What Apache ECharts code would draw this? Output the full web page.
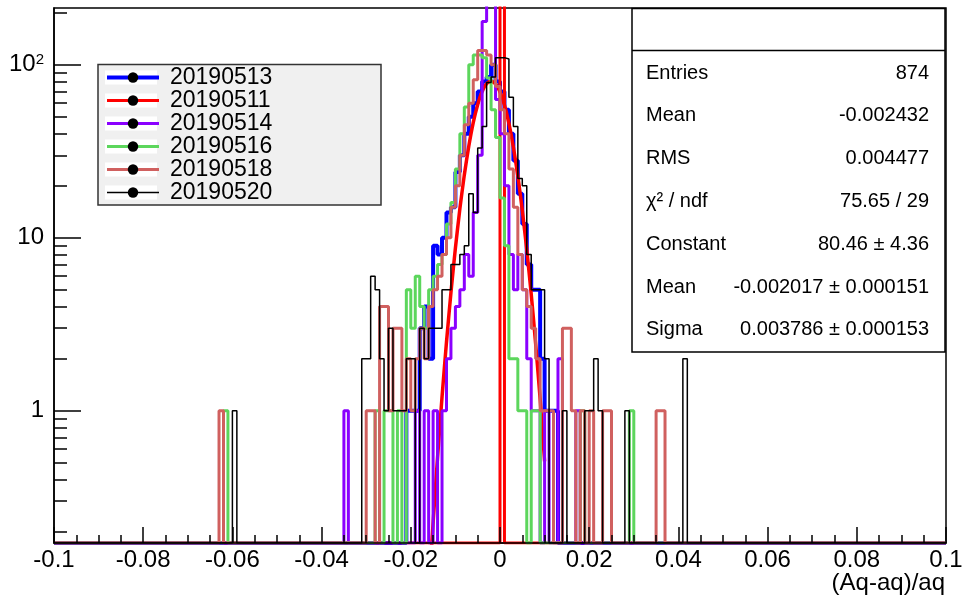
<!DOCTYPE html>
<html>
<head>
<meta charset="utf-8">
<script src="https://cdn.jsdelivr.net/npm/echarts@6/dist/echarts.min.js"></script>
<style>
html,body{margin:0;padding:0;background:#fff}
#chart{width:962px;height:596px}
</style>
</head>
<body>
<div id="chart"></div>
<script>
// binning of all histograms: 0.001 wide bins on [-0.1, 0.1]
var xMin = -0.1, xMax = 0.1, binWidth = 0.001
var yMin = 0.172, yMax = 213

var runs = ['20190513','20190511','20190514','20190516','20190518','20190520']
var runColors = ['#0000ff','#ff0000','#8a00ff','#5cd65c','#d0605f','#000000']
var runWidths = [4,3,3,3,3,1.5]

// non empty bins: [bin low edge, entries]
var h20190513 = [[-0.021,1],[-0.020,1],[-0.019,1],[-0.018,3],[-0.017,4],[-0.016,2],[-0.015,9],[-0.014,8],[-0.013,10],[-0.012,14],[-0.011,15],[-0.010,24],[-0.009,30],[-0.008,40],[-0.007,50],[-0.006,60],[-0.005,70],[-0.004,80],[-0.003,85],[-0.002,100],[-0.001,80],[0.000,70],[0.001,55],[0.002,40],[0.003,28],[0.004,18],[0.005,12],[0.006,7],[0.007,5],[0.008,5],[0.009,2],[0.010,1],[0.011,1],[0.012,1]]
var h20190511 = [[0.000,300]]
var h20190514 = [[-0.035,1],[-0.019,1],[-0.017,1],[-0.015,1],[-0.013,1],[-0.012,2],[-0.011,3],[-0.010,4],[-0.009,5],[-0.008,8],[-0.007,6],[-0.006,14],[-0.005,30],[-0.004,178],[-0.003,260],[-0.002,260],[-0.001,63],[0.000,40],[0.001,20],[0.002,8],[0.003,5],[0.004,8],[0.005,5],[0.006,2],[0.007,1],[0.008,1],[0.010,1],[0.013,2],[0.017,1]]
var h20190516 = [[-0.062,1],[-0.028,1],[-0.026,1],[-0.025,1],[-0.023,1],[-0.021,5],[-0.020,3],[-0.019,6],[-0.018,4],[-0.017,3],[-0.016,5],[-0.015,6],[-0.014,7],[-0.013,8],[-0.012,12],[-0.011,16],[-0.010,25],[-0.009,40],[-0.008,57],[-0.007,100],[-0.006,114],[-0.005,114],[-0.004,110],[-0.003,84],[-0.002,55],[-0.001,38],[0.000,17],[0.001,9],[0.002,2],[0.003,2],[0.004,1],[0.005,1],[0.007,1],[0.008,1],[0.018,1],[0.029,1]]
var h20190518 = [[-0.063,1],[-0.030,1],[-0.029,1],[-0.027,4],[-0.026,4],[-0.025,1],[-0.024,3],[-0.023,3],[-0.022,1],[-0.021,2],[-0.020,1],[-0.019,2],[-0.018,3],[-0.017,2],[-0.016,4],[-0.015,5],[-0.014,6],[-0.013,8],[-0.012,10],[-0.011,15],[-0.010,20],[-0.009,30],[-0.008,45],[-0.007,60],[-0.006,82],[-0.005,121],[-0.004,121],[-0.003,114],[-0.002,100],[-0.001,75],[0.000,55],[0.001,40],[0.002,25],[0.003,15],[0.004,8],[0.005,5],[0.006,4],[0.007,3],[0.008,2],[0.009,1],[0.010,1],[0.011,1],[0.014,3],[0.015,3],[0.016,1],[0.018,1],[0.020,1],[0.023,1],[0.024,1],[0.035,1],[0.036,1]]
var h20190520 = [[-0.060,1],[-0.031,2],[-0.030,2],[-0.029,6],[-0.028,5],[-0.027,2],[-0.026,1],[-0.025,3],[-0.024,1],[-0.023,1],[-0.022,1],[-0.021,2],[-0.020,2],[-0.018,3],[-0.017,2],[-0.016,3],[-0.015,3],[-0.014,3],[-0.013,5],[-0.012,5],[-0.011,7],[-0.010,7],[-0.009,8],[-0.008,9],[-0.007,18],[-0.006,14],[-0.005,33],[-0.004,44],[-0.003,79],[-0.002,85],[-0.001,110],[0.000,110],[0.001,108],[0.002,65],[0.003,44],[0.004,22],[0.005,20],[0.006,8],[0.007,5],[0.008,5],[0.009,5],[0.010,2],[0.014,1],[0.019,1],[0.020,1],[0.021,2],[0.022,1],[0.028,1],[0.041,2]]
var hists = [h20190513,h20190511,h20190514,h20190516,h20190518,h20190520]

// gaussian fit drawn over the first histogram
var fitX = [-0.016,-0.015,-0.014,-0.013,-0.012,-0.011,-0.010,-0.009,-0.008,-0.007,-0.006,-0.005,-0.004,-0.003,-0.002,-0.001,0.000,0.001,0.002,0.003,0.004,0.005,0.006,0.007,0.008,0.009,0.010]
var fitY = [0.088,0.225,0.537,1.20,2.49,4.82,8.71,14.7,23.1,33.8,46.3,59.0,70.2,77.8,80.5,77.6,69.8,58.6,45.8,33.4,22.8,14.4,8.55,4.72,2.43,1.17,0.51]

var yMajorTicks = [1,10,100]
var yMinorTicks = [0.2,0.3,0.4,0.5,0.6,0.7,0.8,0.9,2,3,4,5,6,7,8,9,20,30,40,50,60,70,80,90,200]

var statLabels = ['Entries','Mean','RMS','\u03c7\u00b2 / ndf','Constant','Mean','Sigma']
var statValues = ['874','-0.002432','0.004477','75.65 / 29','80.46 \u00b1 4.36','-0.002017 \u00b1 0.000151','0.003786 \u00b1 0.000153']
var xTitle = '(Aq-aq)/aq'

var font = '"Liberation Sans", Arial, Helvetica, sans-serif'

// histogram outline as step points, empty bins sit on the frame bottom
function stepPoints(bins){
  var counts = {}
  bins.forEach(function(b){ counts[Math.round(b[0]/binWidth)] = b[1] })
  var k0 = Math.round(xMin/binWidth), k1 = Math.round(xMax/binWidth)
  var pts = []
  for (var k = k0; k < k1; k++){
    var v = counts[k] !== undefined ? counts[k] : yMin
    pts.push([+(k*binWidth).toFixed(4), v], [+((k+1)*binWidth).toFixed(4), v])
  }
  return pts
}

var series = []
runs.forEach(function(name, i){
  series.push({
    name: name, type: 'line', data: stepPoints(hists[i]),
    symbol: 'circle', showSymbol: false, clip: true, silent: true,
    lineStyle: {color: runColors[i], width: runWidths[i]},
    itemStyle: {color: '#000'},
    emphasis: {disabled: true}, z: 2 + i
  })
  if (i === 0){
    series.push({
      name: 'fit', type: 'line', data: fitX.map(function(x, j){ return [x, fitY[j]] }),
      symbol: 'none', smooth: 0.2, clip: true, silent: true,
      lineStyle: {color: '#ff0000', width: 3.5},
      emphasis: {disabled: true}, z: 2
    })
  }
})

// legend frame, stats box, axis title
var graphics = [{
  type: 'rect', shape: {x: 98, y: 64.5, width: 283, height: 140.5},
  style: {fill: '#f0f0f0', stroke: '#333', lineWidth: 1.5}, z: 1
}]
runs.forEach(function(name, i){
  graphics.push({type: 'rect', shape: {x: 105, y: 70.5 + i*23, width: 52, height: 14}, style: {fill: '#fff'}, z: 2})
})
graphics.push({
  type: 'rect', shape: {x: 632, y: 8.5, width: 313, height: 343.5},
  style: {fill: '#fff', stroke: '#000', lineWidth: 1.5}, z: 100
})
graphics.push({type: 'line', shape: {x1: 632, y1: 50.5, x2: 945, y2: 50.5}, style: {stroke: '#000', lineWidth: 1.5}, z: 101})
statLabels.forEach(function(t, i){
  var y = 73 + i*42.8
  graphics.push({type: 'text', x: 646, y: y, style: {text: t, font: '20px ' + font, fill: '#000', textAlign: 'left', textVerticalAlign: 'middle'}, z: 101})
  graphics.push({type: 'text', x: 929, y: y, style: {text: statValues[i], font: '20px ' + font, fill: '#000', textAlign: 'right', textVerticalAlign: 'middle'}, z: 101})
})
graphics.push({type: 'text', x: 945, y: 583, style: {text: xTitle, font: '24px ' + font, fill: '#000', textAlign: 'right', textVerticalAlign: 'middle'}, z: 101})

var tickLine = {color: '#000', width: 1.5}

var option = {
  animation: false,
  backgroundColor: '#fff',
  grid: {left: 54, right: 16, top: 8, bottom: 53, show: true, borderColor: '#000', borderWidth: 1.5,
    backgroundColor: 'transparent', containLabel: false, outerBoundsMode: 'none'},
  xAxis: {
    type: 'value', min: xMin, max: xMax, interval: 0.02, z: 10,
    axisLine: {onZero: false, lineStyle: tickLine},
    axisTick: {inside: true, length: 16, lineStyle: tickLine},
    minorTick: {show: true, splitNumber: 4, length: 8, lineStyle: tickLine},
    splitLine: {show: false},
    axisLabel: {
      color: '#000', fontSize: 24, fontFamily: font, margin: 5,
      formatter: function(v){ return String(parseFloat(v.toFixed(3))) }
    }
  },
  yAxis: [{
    type: 'log', logBase: 10, min: yMin, max: yMax, z: 10,
    axisLine: {show: true, onZero: false, lineStyle: tickLine},
    axisTick: {show: true, inside: true, length: 13, customValues: yMinorTicks, lineStyle: tickLine},
    splitLine: {show: false},
    axisLabel: {
      color: '#000', fontSize: 24, fontFamily: font, margin: 10, customValues: yMajorTicks,
      formatter: function(v){ return v >= 100 ? '10{s|2}' : String(Math.round(v)) },
      rich: {s: {fontSize: 15, fontFamily: font, color: '#000', verticalAlign: 'top', padding: [0,0,10,0]}}
    }
  },{
    type: 'log', logBase: 10, min: yMin, max: yMax, position: 'left', z: 10,
    axisLine: {show: false, onZero: false},
    axisTick: {show: true, inside: true, length: 27, customValues: yMajorTicks, lineStyle: tickLine},
    axisLabel: {show: false},
    splitLine: {show: false}
  }],
  legend: {
    orient: 'vertical', left: 105, top: 66, padding: 0, itemGap: 0,
    itemWidth: 52, itemHeight: 13, selectedMode: false, z: 4,
    textStyle: {color: '#000', fontSize: 23, lineHeight: 23, fontFamily: font, padding: [0,0,0,6]},
    data: runs.map(function(name, i){
      return {name: name, itemStyle: {color: '#000', borderWidth: 0}, lineStyle: {color: runColors[i], width: runWidths[i]}}
    })
  },
  graphic: graphics,
  series: series
}

var mychart = echarts.init(document.getElementById('chart'), null, {renderer: 'canvas'})
mychart.setOption(option)
</script>
</body>
</html>
